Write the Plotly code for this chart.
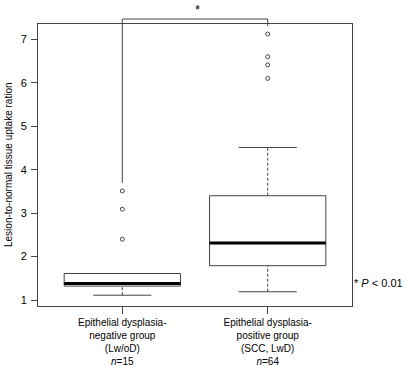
import plotly.graph_objects as go

# ---- data ----
groups = ["Epithelial dysplasia-<br>negative group<br>(Lw/oD)<br><i>n</i>=15",
          "Epithelial dysplasia-<br>positive group<br>(SCC, LwD)<br><i>n</i>=64"]
positions = [1, 2]
lower_whisker = [1.11, 1.19]
q1 = [1.32, 1.79]
median = [1.38, 2.31]
q3 = [1.61, 3.40]
upper_whisker = [1.61, 4.51]
outliers = [[2.40, 3.09, 3.51], [6.10, 6.41, 6.60, 7.12]]
y_ticks = [1, 2, 3, 4, 5, 6, 7]
bracket_left_bottom = 3.70

FONT = "Liberation Sans, Arial, sans-serif"
LINE = "#444444"
half_box = 0.4
half_cap = 0.2

fig = go.Figure()
for i, c in enumerate(positions):
    fig.add_trace(go.Scatter(x=[c, c], y=[lower_whisker[i], q1[i]], mode="lines",
                             line=dict(color=LINE, width=1, dash="3px,2px"), hoverinfo="skip"))
    fig.add_trace(go.Scatter(x=[c, c], y=[q3[i], upper_whisker[i]], mode="lines",
                             line=dict(color=LINE, width=1, dash="3px,2px"), hoverinfo="skip"))
    for w in (lower_whisker[i], upper_whisker[i]):
        fig.add_trace(go.Scatter(x=[c - half_cap, c + half_cap], y=[w, w], mode="lines",
                                 line=dict(color=LINE, width=1), hoverinfo="skip"))
    fig.add_trace(go.Scatter(x=[c - half_box, c + half_box, c + half_box, c - half_box, c - half_box],
                             y=[q1[i], q1[i], q3[i], q3[i], q1[i]], mode="lines",
                             fill="toself", fillcolor="white",
                             line=dict(color=LINE, width=1), hoverinfo="skip"))
    fig.add_trace(go.Scatter(x=[c - half_box, c + half_box], y=[median[i], median[i]], mode="lines",
                             line=dict(color="black", width=3), hoverinfo="skip"))
    fig.add_trace(go.Scatter(x=[c] * len(outliers[i]), y=outliers[i], mode="markers",
                             marker=dict(symbol="circle-open", size=4, color=LINE,
                                         line=dict(width=1, color=LINE)),
                             hoverinfo="skip"))

y_min, y_max = 0.862, 7.352
x_min, x_max = 0.42, 2.58

def ypaper(v):
    return (v - y_min) / (y_max - y_min)

top = 1.0177
shapes = [
    dict(type="line", xref="x", yref="paper", x0=positions[0], x1=positions[0],
         y0=ypaper(bracket_left_bottom), y1=top, line=dict(color=LINE, width=1)),
    dict(type="line", xref="x", yref="paper", x0=positions[0], x1=positions[1],
         y0=top, y1=top, line=dict(color=LINE, width=1)),
    dict(type="line", xref="x", yref="paper", x0=positions[1], x1=positions[1],
         y0=0.993, y1=top, line=dict(color=LINE, width=1)),
]

fig.update_layout(
    width=406, height=366,
    margin=dict(l=38, r=54, t=24, b=60),
    paper_bgcolor="white", plot_bgcolor="white",
    showlegend=False,
    font=dict(family=FONT, size=10, color="black"),
    shapes=shapes,
    xaxis=dict(range=[x_min, x_max], tickvals=positions, ticktext=groups,
               showgrid=False, zeroline=False, showline=True, mirror=True,
               linecolor=LINE, linewidth=1, ticks="outside", ticklen=7,
               tickcolor=LINE, tickfont=dict(size=10), automargin=False),
    yaxis=dict(range=[y_min, y_max], tickvals=y_ticks,
               showgrid=False, zeroline=False, showline=True, mirror=True,
               linecolor=LINE, linewidth=1, ticks="outside", ticklen=6,
               tickcolor=LINE, tickfont=dict(size=11), ticklabelstandoff=2,
               automargin=False),
    annotations=[
        dict(text="Lesion-to-normal tissue uptake ration", textangle=-90,
             xref="paper", yref="paper", x=-0.0955, y=0.5, xanchor="center", yanchor="middle",
             showarrow=False, font=dict(size=10)),
        dict(text="*", xref="x", yref="paper", x=1.515, y=1.05, xanchor="center", yanchor="middle",
             showarrow=False, font=dict(size=13)),
        dict(text="* <i>P</i> &lt; 0.01", xref="paper", yref="paper", x=1.003, y=0.08,
             xanchor="left", yanchor="middle", showarrow=False, font=dict(size=11),
             borderpad=0),
    ],
)

fig.write_html("out.html", config={"displayModeBar": False},
               post_script="document.body.style.margin='0';document.body.style.overflow='hidden';")
